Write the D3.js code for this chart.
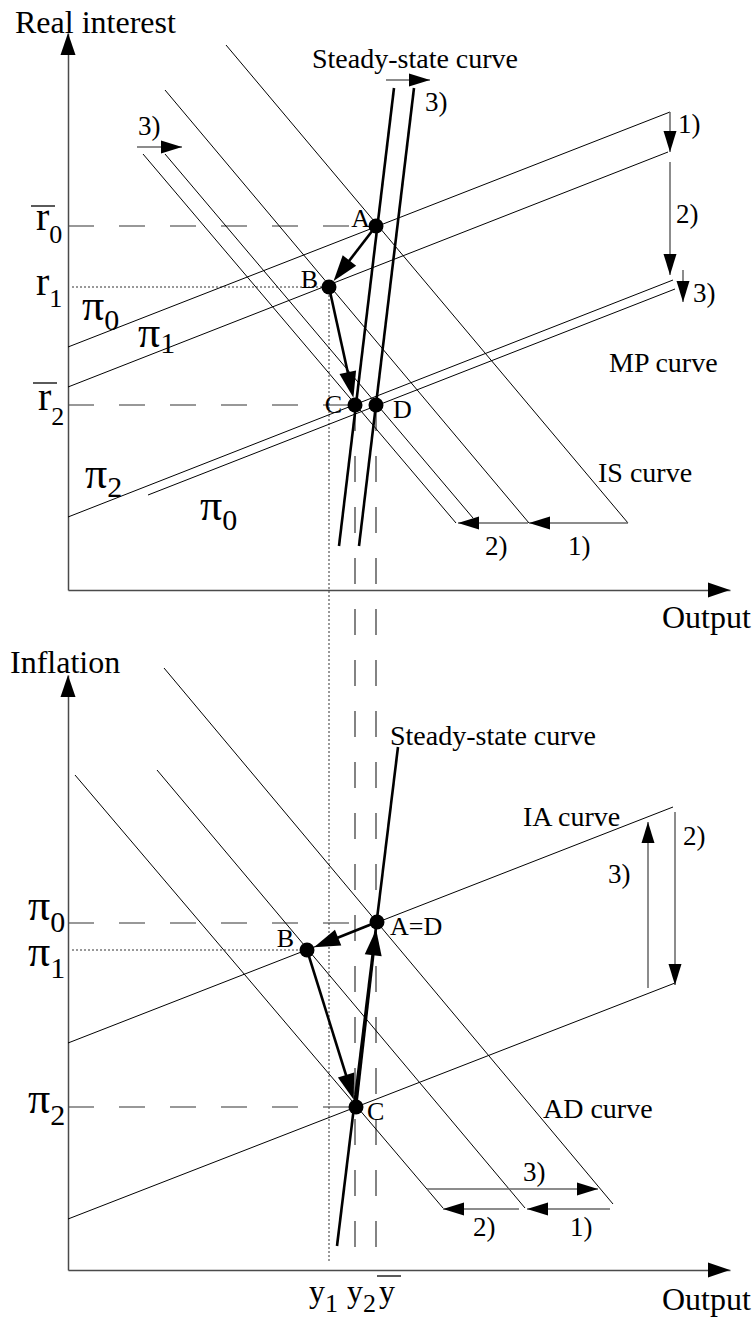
<!DOCTYPE html>
<html><head><meta charset="utf-8">
<script src="https://cdn.jsdelivr.net/npm/d3@7"></script>
<style>
body{margin:0;background:#fff}
svg{display:block}
text{font-family:"Liberation Serif","Times New Roman",serif;fill:#000}
</style>
</head><body>
<svg id="chart" width="754" height="1320"></svg>
<script>
// ---------------- DATA (units measured from each panel's origin) ----------------
const outputNames  = ["y1", "y2", "ybar"];
const outputLevels = [261, 287, 308];

const rateNames  = ["r0", "r1", "r2"];
const rateLevels = [364, 303, 185];

const inflNames  = ["π0", "π1", "π2"];
const inflLevels = [347, 320, 163];

const topPointNames = ["A", "B", "C", "D"];
const topPointX = [308, 261, 287, 308];
const topPointY = [364, 303, 185, 185];

const botPointNames = ["A=D", "B", "C"];
const botPointX = [309, 239, 288];
const botPointY = [348, 320, 163];

// curves as [x1, y1, x2, y2]
const isCurves    = [[158,545,560,67],[97,500,461,67],[75,436,388,67],[97,436,405,72]];
const mpCurves    = [[0,243,602,478],[0,203,600,438],[0,73,605,310],[80,95,607,301]];
const steadyTop   = [[271,44,326,502],[291,44,346,502]];
const adCurves    = [[96,602,545,66],[89,500,457,62],[7,495,375,62]];
const iaCurves    = [[0,227,605,463],[0,51,607,287]];
const steadyBottom= [[269,24,330,523]];

// shift arrows [x1,y1,x2,y2] with labels
const shiftTop = [[69,443,114,443],[318,510,362,510],[602,478,602,438],[602,428,602,315],[615,320,615,288],[560,67,461,67],[460,67,390,67]];
const shiftTopLabels = ["3)","3)","1)","2)","3)","1)","2)"];
const shiftBottom = [[607,458,607,285],[580,282,580,448],[542,61,459,61],[451,61,375,61],[359,81,530,81]];
const shiftBottomLabels = ["2)","3)","1)","2)","3)"];

// movement paths between labelled points
const pathTop = ["A", "B", "C"];
const pathBottom = ["A=D", "B", "C", "A=D"];

// ---------------- LAYOUT ----------------
const svg = d3.select("#chart");
const x = d3.scaleLinear().domain([0, 662]).range([68, 730]);
const yTop = d3.scaleLinear().domain([0, 557]).range([590, 33]);
const yBot = d3.scaleLinear().domain([0, 595]).range([1270, 675]);

const AXIS = "#4a4a4a", GREY = "#666", REF = "#333";

function head(g, x1, y1, x2, y2, L, W) {
  const dx = x2 - x1, dy = y2 - y1, n = Math.hypot(dx, dy), ux = dx / n, uy = dy / n;
  const bx = x2 - ux * L, by = y2 - uy * L;
  g.append("polygon")
    .attr("points", [[x2, y2], [bx - uy * W, by + ux * W], [bx + uy * W, by - ux * W]].map(p => p.join(",")).join(" "))
    .attr("fill", "#000");
}

function panel(ys, cfg) {
  const g = svg.append("g");
  g.append("g").attr("transform", `translate(${x(0)},0)`)
    .call(d3.axisLeft(ys).tickValues([]).tickSizeOuter(0))
    .select(".domain").attr("stroke", AXIS).attr("stroke-width", 1.5);
  g.append("g").attr("transform", `translate(0,${ys(0)})`)
    .call(d3.axisBottom(x).tickValues([]).tickSizeOuter(0))
    .select(".domain").attr("stroke", AXIS).attr("stroke-width", 1.5);
  head(g, x(0), ys(0), x(0), ys(ys.domain()[1]), 22, 7.5);
  head(g, x(0), ys(0), x(x.domain()[1]), ys(0), 22, 7.5);

  g.selectAll("line.thin").data(cfg.thin).join("line").attr("class", "thin")
    .attr("x1", d => x(d[0])).attr("y1", d => ys(d[1]))
    .attr("x2", d => x(d[2])).attr("y2", d => ys(d[3]))
    .attr("stroke", "#000").attr("stroke-width", 1);

  cfg.shifts.forEach((d, i) => {
    const x1 = x(d[0]), y1 = ys(d[1]), x2 = x(d[2]), y2 = ys(d[3]);
    g.append("line").attr("x1", x1).attr("y1", y1).attr("x2", x2).attr("y2", y2)
      .attr("stroke", GREY).attr("stroke-width", 1.5);
    head(g, x1, y1, x2, y2, 21, 6.5);
    const o = cfg.shiftOff[i];
    g.append("text").attr("x", x1 + o[0]).attr("y", y1 + o[1])
      .attr("font-size", 27).text(cfg.shiftLabels[i]);
  });

  g.selectAll("line.thick").data(cfg.thick).join("line").attr("class", "thick")
    .attr("x1", d => x(d[0])).attr("y1", d => ys(d[1]))
    .attr("x2", d => x(d[2])).attr("y2", d => ys(d[3]))
    .attr("stroke", "#000").attr("stroke-width", 2.6);
  return g;
}

// -------- reference lines --------
const refG = svg.append("g");
function dashLine(x1, y1, x2, y2, dotted) {
  refG.append("line").attr("x1", x1).attr("y1", y1).attr("x2", x2).attr("y2", y2)
    .attr("stroke", REF).attr("stroke-width", dotted ? 1 : 1.2)
    .attr("stroke-dasharray", dotted ? "2,2" : "26,25");
}
dashLine(x(0), yTop(rateLevels[0]), x(topPointX[0]), yTop(rateLevels[0]), false);
dashLine(x(4), yTop(rateLevels[1]), x(topPointX[1]), yTop(rateLevels[1]), true);
dashLine(x(0), yTop(rateLevels[2]), x(topPointX[2]), yTop(rateLevels[2]), false);
dashLine(x(0), yBot(inflLevels[0]), x(botPointX[0]), yBot(inflLevels[0]), false);
dashLine(x(4), yBot(inflLevels[1]), x(botPointX[1]), yBot(inflLevels[1]), true);
dashLine(x(0), yBot(inflLevels[2]), x(botPointX[2]), yBot(inflLevels[2]), false);
dashLine(x(outputLevels[0]), yTop(rateLevels[1]), x(outputLevels[0]), yBot(8), true);
dashLine(x(outputLevels[1]), yTop(rateLevels[2]), x(outputLevels[1]), yBot(7), false);
dashLine(x(outputLevels[2]), yTop(rateLevels[2]), x(outputLevels[2]), yBot(5), false);

// -------- panels --------
const gTop = panel(yTop, {
  thin: isCurves.concat(mpCurves), thick: steadyTop,
  shifts: shiftTop, shiftLabels: shiftTopLabels,
  shiftOff: [[1,-12],[39,31],[8,21],[6,61],[10,32],[-60,32],[-43,32]]
});
const gBot = panel(yBot, {
  thin: adCurves.concat(iaCurves), thick: steadyBottom,
  shifts: shiftBottom, shiftLabels: shiftBottomLabels,
  shiftOff: [[8,33],[-40,-105],[-40,27],[-46,27],[96,-8]]
});

// -------- movement arrows + points --------
function movement(g, ys, names, px, py, path, lblOff) {
  const pos = n => { const i = names.indexOf(n); return [x(px[i]), ys(py[i])]; };
  for (let k = 0; k < path.length - 1; k++) {
    const [x1, y1] = pos(path[k]), [x2, y2] = pos(path[k + 1]);
    const n = Math.hypot(x2 - x1, y2 - y1), ux = (x2 - x1) / n, uy = (y2 - y1) / n;
    const tx = x2 - ux * 7.5, ty = y2 - uy * 7.5;
    g.append("line").attr("x1", x1).attr("y1", y1).attr("x2", tx - ux * 10).attr("y2", ty - uy * 10)
      .attr("stroke", "#000").attr("stroke-width", 2.6);
    head(g, x1, y1, tx, ty, 26, 8.5);
  }
  names.forEach((n, i) => {
    g.append("circle").attr("cx", x(px[i])).attr("cy", ys(py[i])).attr("r", 7.5).attr("fill", "#000");
    const o = lblOff[i];
    g.append("text").attr("x", x(px[i]) + o[0]).attr("y", ys(py[i]) + o[1])
      .attr("text-anchor", o[2]).attr("font-size", 26).text(n);
  });
}
movement(gTop, yTop, topPointNames, topPointX, topPointY, pathTop,
  [[-6,1,"end"],[-11,1,"end"],[-13,8,"end"],[17,13,"start"]]);
movement(gBot, yBot, botPointNames, botPointX, botPointY, pathBottom,
  [[13,13,"start"],[-13,-3,"end"],[11,13,"start"]]);

// -------- text labels --------
const tg = svg.append("g");
function label(t, px, py, size) {
  tg.append("text").attr("x", px).attr("y", py).attr("font-size", size).text(t);
}
label("Real interest", x(-53), yTop(557), 32);
label("Output", x(594), yTop(-38), 32);
label("Steady-state curve", x(244), yTop(522), 28);
label("MP curve", x(541), yTop(218), 28);
label("IS curve", x(530), yTop(108), 28);
label("Inflation", x(-58), yBot(597), 32);
label("Output", x(594), yBot(-40), 32);
label("Steady-state curve", x(322), yBot(525), 28);
label("IA curve", x(455), yBot(444), 28);
label("AD curve", x(475), yBot(152), 28);

function subLabel(main, sub, px, py, mainSize, subSize, dx, dy) {
  const t = tg.append("text").attr("x", px).attr("y", py);
  t.append("tspan").attr("font-size", mainSize).text(main);
  t.append("tspan").attr("font-size", subSize).attr("dx", dx).attr("dy", dy).text(sub);
  return t;
}
function overline(x1, x2, yy) {
  tg.append("line").attr("x1", x1).attr("x2", x2).attr("y1", yy).attr("y2", yy)
    .attr("stroke", "#000").attr("stroke-width", 1.3);
}
// rate labels (top)
subLabel("r", "0", x(-32), yTop(rateLevels[0]) + 4, 40, 26, 0, 13);
overline(x(-37), x(-13), yTop(rateLevels[0]) - 20);
subLabel("r", "1", x(-32), yTop(rateLevels[1]) + 8, 40, 26, 0, 12);
subLabel("r", "2", x(-30), yTop(rateLevels[2]) + 5, 40, 26, 0, 15);
overline(x(-35), x(-11), yTop(rateLevels[2]) - 22);
// pi labels on MP lines (top)
subLabel("π", "0", x(14), yTop(270), 44, 30, 0, 10);
subLabel("π", "1", x(70), yTop(243), 44, 30, 0, 6);
subLabel("π", "2", x(17), yTop(102), 44, 30, 0, 9);
subLabel("π", "0", x(132), yTop(70), 44, 30, 0, 10);
// inflation labels (bottom)
subLabel("π", "0", x(-40), yBot(inflLevels[0]) - 3, 44, 30, 0, 12);
subLabel("π", "1", x(-40), yBot(inflLevels[1]) + 16, 44, 30, 0, 12);
subLabel("π", "2", x(-40), yBot(inflLevels[2]) + 6, 44, 30, 0, 12);
// output labels (bottom)
subLabel("y", "1", x(outputLevels[0]) - 20, yBot(-32), 32, 26, 0, 10);
subLabel("y", "2", x(outputLevels[1]) - 8, yBot(-32), 32, 26, 0, 10);
subLabel("y", "", x(outputLevels[2]) + 3, yBot(-32), 32, 26, 0, 0);
overline(x(outputLevels[2]) + 1, x(outputLevels[2]) + 25, yBot(-6));
</script>
</body></html>
